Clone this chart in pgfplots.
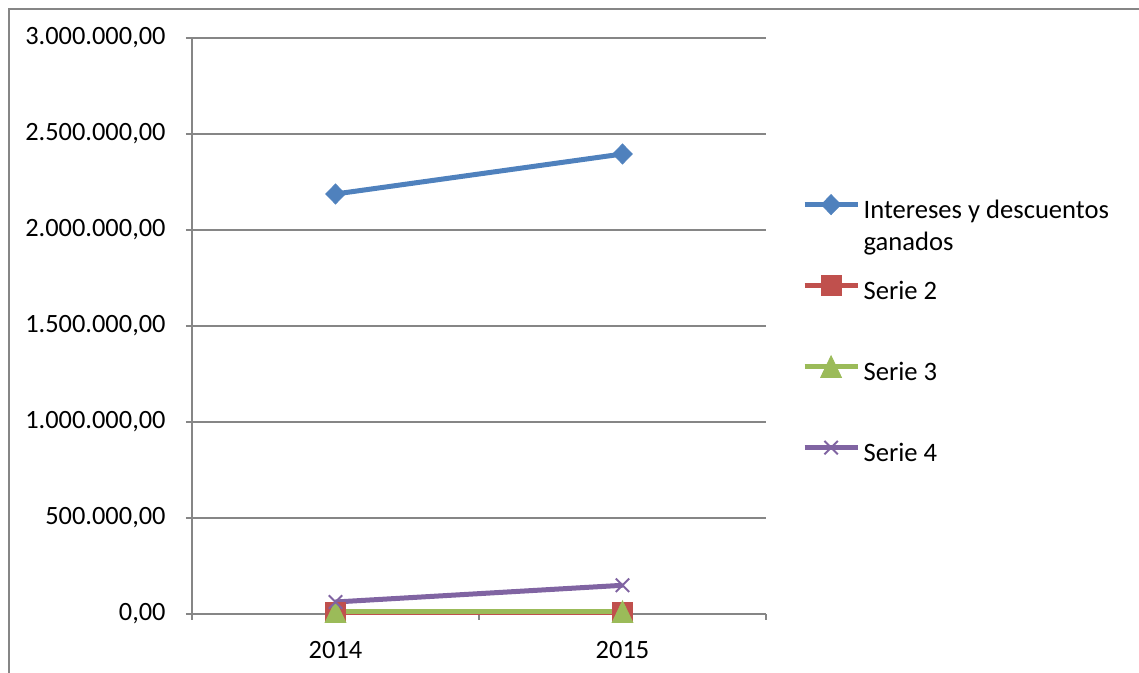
\documentclass[border=0pt]{standalone}
\usepackage{pgfplots}
\pgfplotsset{compat=1.18}
\usepackage{fontspec}
\setmainfont{Carlito}
\definecolor{s1}{HTML}{4F81BD}
\definecolor{s2}{HTML}{C0504D}
\definecolor{s3}{HTML}{9BBB59}
\definecolor{s4}{HTML}{8064A2}
\definecolor{ax}{HTML}{868686}
\begin{document}
\begin{tikzpicture}
\useasboundingbox (0pt,0pt) rectangle (569.5pt,336.5pt);
\draw[ax, line width=1pt] (4.5pt,-2pt) -- (4.5pt,332pt) -- (572pt,332pt);
\begin{axis}[
  at={(96pt,29.5pt)}, anchor=south west,
  scale only axis, width=287pt, height=288pt,
  xmin=-0.5, xmax=1.5, ymin=0, ymax=3000000,
  scaled y ticks=false,
  clip=false,
  axis lines*=left,
  axis line style={ax, line width=0.8pt, -},
  xtick={-0.5,0.5,1.5}, xticklabels={},
  extra x ticks={0,1}, extra x tick labels={2014,2015},
  extra x tick style={major tick length=0pt},
  ytick={0,500000,1000000,1500000,2000000,2500000,3000000},
  yticklabels={{0,00},{500.000,00},{1.000.000,00},{1.500.000,00},{2.000.000,00},{2.500.000,00},{3.000.000,00}},
  tick align=outside, major tick length=3pt,
  tick style={ax, line width=0.8pt},
  ymajorgrids, grid style={ax, line width=0.8pt},
  ticklabel style={font=\fontsize{13.2}{16}\selectfont, inner sep=0pt},
  /pgf/number format/assume math mode=true,
  yticklabel style={xshift=-10pt},
  xticklabel style={yshift=-13.5pt},
  legend style={at={(1.0665,0.734)}, anchor=north west, draw=none, fill=none,
    inner sep=0pt, row sep=24pt, column sep=3pt,
    font=\fontsize{13.3}{16}\selectfont,
    nodes={inner sep=0pt, text height=10pt, text depth=3pt}},
  legend cell align=left,
  legend image code/.code={\pgfpathrectangle{\pgfpoint{0pt}{-3pt}}{\pgfpoint{26.5pt}{13pt}}\pgfusepath{use as bounding box}
    \draw[mark repeat=2,mark phase=2] plot coordinates {(0pt,3.5pt) (13.25pt,3.5pt) (26.5pt,3.5pt)};},
]
\addplot[s1, line width=2.5pt, mark=diamond*, mark size=5pt, mark options={solid, line width=0.4pt, fill=s1, xscale=1.3}] coordinates {(0,2187500) (1,2395833)};
\addlegendentry{\begin{tabular}[t]{@{}l@{}}Intereses y descuentos\\[0pt]ganados\end{tabular}}
\addplot[s2, line width=2.5pt, mark=square*, mark size=5pt, mark options={solid, line width=0.4pt, fill=s2}] coordinates {(0,6000) (1,6000)};
\addlegendentry{Serie 2}
\addplot[s3, line width=2.5pt, mark=triangle*, mark size=6pt, mark options={solid, line width=0.4pt, fill=s3, yscale=1.2, yshift=-1.5pt}] coordinates {(0,12000) (1,12000)};
\addlegendentry{Serie 3}
\addplot[s4, line width=2.5pt, mark=x, mark size=4.75pt, mark options={solid, line width=1pt}] coordinates {(0,62500) (1,149500)};
\addlegendentry{Serie 4}
\end{axis}
\end{tikzpicture}
\end{document}
